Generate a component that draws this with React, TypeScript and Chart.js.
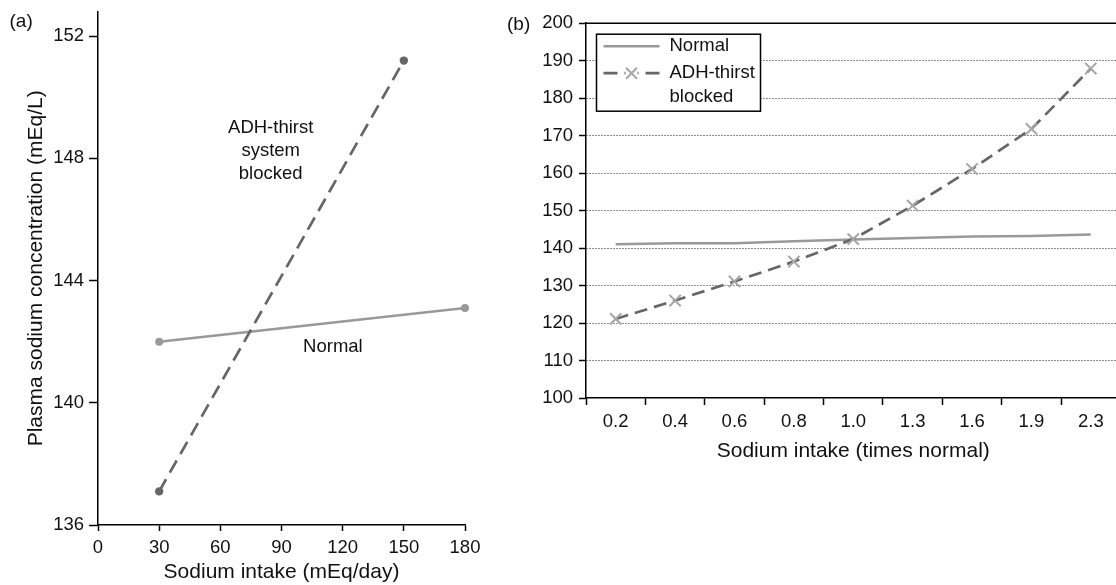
import React, { useEffect, useRef } from "react";
import { Chart, registerables } from "chart.js";

Chart.register(...registerables);

// ---------- Panel (a) data ----------
const normalAX = [30, 180];
const normalAY = [142.0, 143.1];
const adhAX = [30, 150];
const adhAY = [137.1, 151.2];
const yTicksA = [136, 140, 144, 148, 152];

// ---------- Panel (b) data ----------
const categoriesB = ["0.2", "0.4", "0.6", "0.8", "1.0", "1.3", "1.6", "1.9", "2.3"];
const normalB = [141.0, 141.3, 141.3, 141.8, 142.3, 142.7, 143.1, 143.2, 143.6];
const adhB = [121.1, 126.0, 131.1, 136.4, 142.4, 151.3, 161.1, 171.8, 187.9];

const FONT = '"Liberation Sans", Arial, Helvetica, sans-serif';
const NORMAL_COLOR = "#999999";
const ADH_COLOR = "#666666";
const CROSS_COLOR = "#a6a6a6";

const annotA = {
  id: "annotA",
  afterDraw(chart: any) {
    const { ctx, scales } = chart;
    const x = scales.x;
    const y = scales.y;
    ctx.save();
    ctx.fillStyle = "#111";
    ctx.font = `18.5px ${FONT}`;
    ctx.textAlign = "center";
    ctx.textBaseline = "middle";
    const ax = x.getPixelForValue(84.7);
    const ay = y.getPixelForValue(148.23);
    ctx.fillText("ADH-thirst", ax, ay - 23);
    ctx.fillText("system", ax, ay);
    ctx.fillText("blocked", ax, ay + 22.5);
    ctx.fillText("Normal", x.getPixelForValue(115.2), y.getPixelForValue(141.83));
    ctx.font = `19px ${FONT}`;
    ctx.textAlign = "left";
    ctx.fillText("(a)", 9.5, 22);
    ctx.restore();
  },
};

const annotB = {
  id: "annotB",
  afterDraw(chart: any) {
    const { ctx, chartArea } = chart;
    const { left, top, right } = chartArea;
    ctx.save();
    // top frame line
    ctx.strokeStyle = "#000";
    ctx.lineWidth = 1.5;
    ctx.beginPath();
    ctx.moveTo(left, top);
    ctx.lineTo(right, top);
    ctx.stroke();

    // legend box
    const bx = left + 10.5;
    const by = top + 11;
    const bw = 164;
    const bh = 77;
    ctx.fillStyle = "#fff";
    ctx.fillRect(bx, by, bw, bh);
    ctx.strokeStyle = "#000";
    ctx.lineWidth = 1.5;
    ctx.strokeRect(bx, by, bw, bh);

    const lx1 = left + 17.5;
    const lx2 = left + 73.5;
    const y1 = top + 23;
    const y2 = top + 50;
    // Normal sample
    ctx.strokeStyle = NORMAL_COLOR;
    ctx.lineWidth = 2.5;
    ctx.beginPath();
    ctx.moveTo(lx1, y1);
    ctx.lineTo(lx2, y1);
    ctx.stroke();
    // ADH sample
    ctx.strokeStyle = ADH_COLOR;
    ctx.lineWidth = 2.7;
    ctx.setLineDash([14, 7]);
    ctx.beginPath();
    ctx.moveTo(lx1, y2);
    ctx.lineTo(lx2, y2);
    ctx.stroke();
    ctx.setLineDash([]);
    // cross marker
    const cx = (lx1 + lx2) / 2;
    const r = 5.5;
    ctx.fillStyle = "#fff";
    ctx.fillRect(cx - 6, y2 - 2, 12, 4);
    ctx.strokeStyle = CROSS_COLOR;
    ctx.lineWidth = 2;
    ctx.beginPath();
    ctx.moveTo(cx - r, y2 - r);
    ctx.lineTo(cx + r, y2 + r);
    ctx.moveTo(cx - r, y2 + r);
    ctx.lineTo(cx + r, y2 - r);
    ctx.stroke();

    ctx.fillStyle = "#111";
    ctx.font = `18.5px ${FONT}`;
    ctx.textAlign = "left";
    ctx.textBaseline = "middle";
    const tx = left + 83.5;
    ctx.fillText("Normal", tx, y1);
    ctx.fillText("ADH-thirst", tx, y2);
    ctx.fillText("blocked", tx, y2 + 24);

    ctx.font = `19px ${FONT}`;
    ctx.fillText("(b)", 7, 25);
    ctx.restore();
  },
};

export default function App() {
  const refA = useRef<HTMLCanvasElement>(null);
  const refB = useRef<HTMLCanvasElement>(null);

  useEffect(() => {
    Chart.defaults.font.family = FONT;
    Chart.defaults.color = "#111";

    const chartA = new Chart(refA.current as HTMLCanvasElement, {
      type: "line",
      data: {
        datasets: [
          {
            label: "ADH-thirst system blocked",
            data: adhAX.map((v, i) => ({ x: v, y: adhAY[i] })),
            borderColor: ADH_COLOR,
            backgroundColor: ADH_COLOR,
            borderWidth: 2.7,
            borderDash: [14, 7.5],
            pointRadius: 4.2,
            pointBorderWidth: 0,
            pointBackgroundColor: ADH_COLOR,
            clip: false,
          },
          {
            label: "Normal",
            data: normalAX.map((v, i) => ({ x: v, y: normalAY[i] })),
            borderColor: NORMAL_COLOR,
            backgroundColor: NORMAL_COLOR,
            borderWidth: 2.5,
            pointRadius: 4,
            pointBorderWidth: 0,
            pointBackgroundColor: NORMAL_COLOR,
            clip: false,
          },
        ],
      },
      options: {
        responsive: false,
        animation: false,
        devicePixelRatio: 1,
        events: [],
        layout: { padding: { left: 0, right: 35, top: 11.7, bottom: 0 } },
        plugins: { legend: { display: false }, tooltip: { enabled: false } },
        scales: {
          x: {
            type: "linear",
            min: 0,
            max: 180,
            ticks: { stepSize: 30, font: { size: 18.5 }, color: "#111", padding: 6 },
            grid: { drawOnChartArea: false, drawTicks: true, tickLength: 6, tickColor: "#000", tickWidth: 1.5 },
            border: { display: true, color: "#000", width: 1.5 },
            title: {
              display: true,
              text: "Sodium intake (mEq/day)",
              font: { size: 21 },
              color: "#111",
              padding: { top: 0, bottom: 0 },
            },
            afterFit: (s: any) => {
              s.height = 60;
            },
          },
          y: {
            type: "linear",
            min: 136,
            max: 152.8,
            afterBuildTicks: (s: any) => {
              s.ticks = yTicksA.map((v) => ({ value: v }));
            },
            ticks: { font: { size: 18.5 }, color: "#111", padding: 5 },
            grid: { drawOnChartArea: false, drawTicks: true, tickLength: 9, tickColor: "#000", tickWidth: 1.5 },
            border: { display: true, color: "#000", width: 1.5 },
            title: {
              display: true,
              text: "Plasma sodium concentration (mEq/L)",
              font: { size: 21 },
              color: "#111",
              padding: { top: 24, bottom: 0 },
            },
            afterFit: (s: any) => {
              s.width = 98;
              s.paddingTop = 0;
              s.paddingBottom = 0;
            },
          },
        },
      } as any,
      plugins: [annotA],
    });

    const chartB = new Chart(refB.current as HTMLCanvasElement, {
      type: "line",
      data: {
        labels: categoriesB,
        datasets: [
          {
            label: "ADH-thirst blocked",
            data: adhB,
            borderColor: ADH_COLOR,
            backgroundColor: CROSS_COLOR,
            borderWidth: 2.7,
            borderDash: [13, 7],
            pointStyle: "crossRot",
            pointRadius: 8,
            pointBorderWidth: 2,
            pointBorderColor: CROSS_COLOR,
            tension: 0,
            clip: false,
          },
          {
            label: "Normal",
            data: normalB,
            borderColor: NORMAL_COLOR,
            borderWidth: 2.5,
            pointRadius: 0,
            tension: 0,
          },
        ],
      },
      options: {
        responsive: false,
        animation: false,
        devicePixelRatio: 1,
        events: [],
        layout: { padding: { left: 0, right: 19.5, top: 23.2, bottom: 0 } },
        plugins: { legend: { display: false }, tooltip: { enabled: false } },
        scales: {
          x: {
            type: "category",
            offset: true,
            ticks: { font: { size: 18.5 }, color: "#111", padding: 6 },
            grid: {
              offset: true,
              drawOnChartArea: false,
              drawTicks: true,
              tickLength: 7,
              tickColor: "#000",
              tickWidth: 1.5,
            },
            border: { display: true, color: "#000", width: 1.5 },
            title: {
              display: true,
              text: "Sodium intake (times normal)",
              font: { size: 21 },
              color: "#111",
              padding: { top: 0, bottom: 6.4 },
            },
            afterFit: (s: any) => {
              s.height = 72;
            },
          },
          y: {
            type: "linear",
            min: 100,
            max: 200,
            ticks: { stepSize: 10, font: { size: 18.5 }, color: "#111", padding: 6 },
            grid: {
              drawOnChartArea: true,
              drawTicks: true,
              tickLength: 7,
              tickColor: "#000",
              tickWidth: 1.5,
              lineWidth: 1,
              color: (c: any) =>
                c.tick && (c.tick.value === 100 || c.tick.value === 200) ? "rgba(0,0,0,0)" : "#222",
            },
            border: { display: true, color: "#000", width: 1.5, dash: [1, 2] },
            title: { display: false },
            afterFit: (s: any) => {
              s.width = 86;
              s.paddingTop = 0;
              s.paddingBottom = 0;
            },
          },
        },
      } as any,
      plugins: [annotB],
    });

    return () => {
      chartA.destroy();
      chartB.destroy();
    };
  }, []);

  return (
    <div
      style={{
        position: "fixed",
        left: 0,
        top: 0,
        width: 1116,
        height: 585,
        overflow: "hidden",
        background: "#fff",
      }}
    >
      <canvas
        ref={refA}
        width={500}
        height={585}
        style={{ position: "absolute", left: 0, top: 0, width: 500, height: 585 }}
      />
      <canvas
        ref={refB}
        width={640}
        height={470}
        style={{ position: "absolute", left: 500, top: 0, width: 640, height: 470 }}
      />
    </div>
  );
}
